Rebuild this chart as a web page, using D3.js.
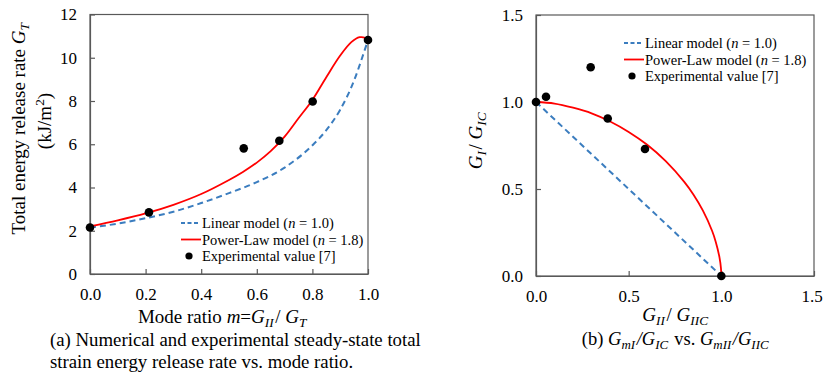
<!DOCTYPE html>
<html>
<head>
<meta charset="utf-8">
<script src="https://cdn.jsdelivr.net/npm/d3@7"></script>
<style>
  body { margin: 0; background: #fff; }
  svg text, svg tspan { font-family: "Liberation Serif", "DejaVu Serif", serif !important; fill: #000; }
</style>
</head>
<body>
<svg id="chart" width="823" height="388"></svg>
<script>
// ---- data ----
// (a) total energy release rate vs mode ratio
const expM = [0.0, 0.212, 0.553, 0.681, 0.801, 1.0];
const expGT = [2.15, 2.85, 5.81, 6.16, 7.98, 10.82];
const linM = [0, 0.1, 0.2, 0.3, 0.4, 0.5, 0.6, 0.7, 0.8, 0.85, 0.9, 0.95, 0.975, 1.0];
const linGT = [2.15, 2.33, 2.58, 2.88, 3.28, 3.74, 4.25, 4.92, 5.95, 6.65, 7.6, 8.95, 9.85, 10.82];
const powM = [0, 0.1, 0.2, 0.3, 0.4, 0.5, 0.55, 0.6, 0.65, 0.7, 0.75, 0.8, 0.85, 0.9, 0.94, 0.97, 0.99, 1.0];
const powGT = [2.2, 2.48, 2.8, 3.2, 3.7, 4.35, 4.72, 5.15, 5.68, 6.35, 7.2, 8.05, 9.1, 10.1, 10.72, 10.95, 10.92, 10.82];
const yTicksA = [0, 2, 4, 6, 8, 10, 12];
const xTicksA = [0, 0.2, 0.4, 0.6, 0.8, 1.0];

// (b) normalised failure envelope
const expII = [0.0, 0.054, 0.295, 0.387, 0.588, 1.0];
const expI = [1.0, 1.03, 1.2, 0.905, 0.73, 0.0];
const linII = [0, 1];
const linI = [1, 0];
const powII = [0, 0.1, 0.2, 0.3, 0.4, 0.5, 0.6, 0.7, 0.8, 0.85, 0.9, 0.95, 0.97, 0.99, 0.998, 1.0];
const powI = [1.0, 0.991, 0.967, 0.935, 0.888, 0.828, 0.754, 0.66, 0.541, 0.467, 0.377, 0.26, 0.196, 0.107, 0.044, 0.0];
const ticksB = [0, 0.5, 1.0, 1.5];

const legendLabels = ["Linear model (", "Power-Law model (", "Experimental  value [7]"];
const legendN = ["1.0", "1.8"];

const blue = "#3b7dbf", red = "#ff0000", axisCol = "#595959";
const FONT = "'Liberation Serif', 'DejaVu Serif', serif";
const svg = d3.select("#chart");

function zip(a, b) { return a.map((v, i) => [v, b[i]]); }

function drawPanel(o) {
  const g = svg.append("g");
  const x = d3.scaleLinear().domain(o.xDom).range(o.xRange);
  const y = d3.scaleLinear().domain(o.yDom).range(o.yRange);

  // frame
  g.append("rect")
    .attr("x", o.xRange[0]).attr("y", o.yRange[1])
    .attr("width", o.xRange[1] - o.xRange[0]).attr("height", o.yRange[0] - o.yRange[1])
    .attr("fill", "none").attr("stroke", axisCol).attr("stroke-width", 1.2);

  // axes, inward ticks
  const xa = g.append("g").attr("transform", `translate(0,${o.yRange[0]})`)
    .call(d3.axisBottom(x).tickValues(o.xTicks).tickSizeInner(-5).tickSizeOuter(0).tickPadding(14).tickFormat(d3.format(".1f")));
  const ya = g.append("g").attr("transform", `translate(${o.xRange[0]},0)`)
    .call(d3.axisLeft(y).tickValues(o.yTicks).tickSizeInner(-5).tickSizeOuter(0).tickPadding(13).tickFormat(o.yFmt));
  [xa, ya].forEach(a => {
    a.attr("font-family", FONT).attr("font-size", 17);
    a.select(".domain").attr("stroke", axisCol).attr("stroke-width", 1.2);
    a.selectAll(".tick line").attr("stroke", axisCol).attr("stroke-width", 1.2);
    a.selectAll("text").attr("fill", "#000");
  });
  // keep the last x label inside the page
  if (o.lastDx) xa.selectAll(".tick:last-of-type text").attr("dx", o.lastDx);

  const line = d3.line().x(d => x(d[0])).y(d => y(d[1]));
  const lineS = d3.line().x(d => x(d[0])).y(d => y(d[1])).curve(d3.curveMonotoneX);
  const lineC = d3.line().x(d => x(d[0])).y(d => y(d[1])).curve(d3.curveCatmullRom.alpha(0.5));

  g.append("path").datum(zip(o.linX, o.linY)).attr("d", o.linSmooth ? lineS : line)
    .attr("fill", "none").attr("stroke", blue).attr("stroke-width", 2).attr("stroke-dasharray", "6,4");
  g.append("path").datum(zip(o.powX, o.powY)).attr("d", lineC)
    .attr("fill", "none").attr("stroke", red).attr("stroke-width", 1.8);
  g.selectAll("circle.exp").data(zip(o.expX, o.expY)).join("circle")
    .attr("cx", d => x(d[0])).attr("cy", d => y(d[1])).attr("r", 4.3).attr("fill", "#000");

  // legend
  const lg = g.append("g").attr("transform", `translate(${o.leg[0]},${o.leg[1]})`);
  const rowH = 16.5;
  legendLabels.forEach((lab, i) => {
    const ry = i * rowH;
    if (i === 0) lg.append("line").attr("x1", 0).attr("x2", 19).attr("y1", ry).attr("y2", ry)
      .attr("stroke", blue).attr("stroke-width", 2).attr("stroke-dasharray", "4,2.5");
    if (i === 1) lg.append("line").attr("x1", 0).attr("x2", 20).attr("y1", ry).attr("y2", ry)
      .attr("stroke", red).attr("stroke-width", 1.8);
    if (i === 2) lg.append("circle").attr("cx", 8).attr("cy", ry).attr("r", 3.6).attr("fill", "#000");
    const t = lg.append("text").attr("x", 21).attr("y", ry + 5).style("font-size", "14.5px");
    t.append("tspan").text(lab);
    if (i < 2) {
      t.append("tspan").style("font-style", "italic").text("n");
      t.append("tspan").text(" = " + legendN[i] + ")");
    }
  });
  return {x, y};
}

// ---- panel (a) ----
drawPanel({
  xDom: [0, 1], xRange: [90, 368], yDom: [0, 12], yRange: [274, 14.5],
  xTicks: xTicksA, yTicks: yTicksA, yFmt: d3.format("d"),
  linX: linM, linY: linGT, linSmooth: true,
  powX: powM, powY: powGT,
  expX: expM, expY: expGT, leg: [181, 223]
});

// ---- panel (b) ----
drawPanel({
  xDom: [0, 1.5], xRange: [536, 814], yDom: [0, 1.5], yRange: [276, 15],
  xTicks: ticksB, yTicks: ticksB, yFmt: d3.format(".1f"),
  linX: linII, linY: linI, linSmooth: false,
  powX: powII, powY: powI,
  expX: expII, expY: expI, leg: [624, 43], lastDx: -2.5
});

// ---- axis titles ----
function sub(t, base, s, italic) {
  t.append("tspan").style("font-style", italic ? "italic" : "normal").text(base);
  t.append("tspan").attr("dy", 4).style("font-size", "0.7em").style("font-style", "italic").text(s);
  t.append("tspan").attr("dy", -4).text("\u200a");
}

// panel (a) y title
let t = svg.append("text").attr("transform", "translate(25,128) rotate(-90)")
  .attr("text-anchor", "middle").style("font-size", "19px");
t.append("tspan").text("Total energy release rate ");
sub(t, "G", "T", true);
t = svg.append("text").attr("transform", "translate(51,121) rotate(-90)")
  .attr("text-anchor", "middle").style("font-size", "19px");
t.append("tspan").text("(kJ/m");
t.append("tspan").attr("dy", -7).style("font-size", "0.7em").text("2");
t.append("tspan").attr("dy", 7).text(")");

// panel (a) x title
t = svg.append("text").attr("x", 223).attr("y", 323).attr("text-anchor", "middle").style("font-size", "19px");
t.append("tspan").text("Mode ratio ");
t.append("tspan").style("font-style", "italic").text("m");
t.append("tspan").text("=");
sub(t, "G", "II", true);
t.append("tspan").text("/ ");
sub(t, "G", "T", true);

// panel (b) y title
t = svg.append("text").attr("transform", "translate(482,140) rotate(-90)")
  .attr("text-anchor", "middle").style("font-size", "19px");
sub(t, "G", "I", true);
t.append("tspan").text("/ ");
sub(t, "G", "IC", true);

// panel (b) x title
t = svg.append("text").attr("x", 676).attr("y", 321).attr("text-anchor", "middle").style("font-size", "19px");
sub(t, "G", "II", true);
t.append("tspan").text("/ ");
sub(t, "G", "IIC", true);

// captions
svg.append("text").attr("x", 50).attr("y", 346).style("font-size", "18.8px")
  .text("(a) Numerical and experimental steady-state total");
svg.append("text").attr("x", 50).attr("y", 368).style("font-size", "18.8px")
  .text("strain energy release rate vs. mode ratio.");

t = svg.append("text").attr("x", 676).attr("y", 345).attr("text-anchor", "middle").style("font-size", "18.5px");
t.append("tspan").text("(b) ");
sub(t, "G", "mI", true);
t.append("tspan").style("font-style", "italic").text("/");
sub(t, "G", "IC", true);
t.append("tspan").text(" vs. ");
sub(t, "G", "mII", true);
t.append("tspan").style("font-style", "italic").text("/");
sub(t, "G", "IIC", true);
</script>
</body>
</html>
